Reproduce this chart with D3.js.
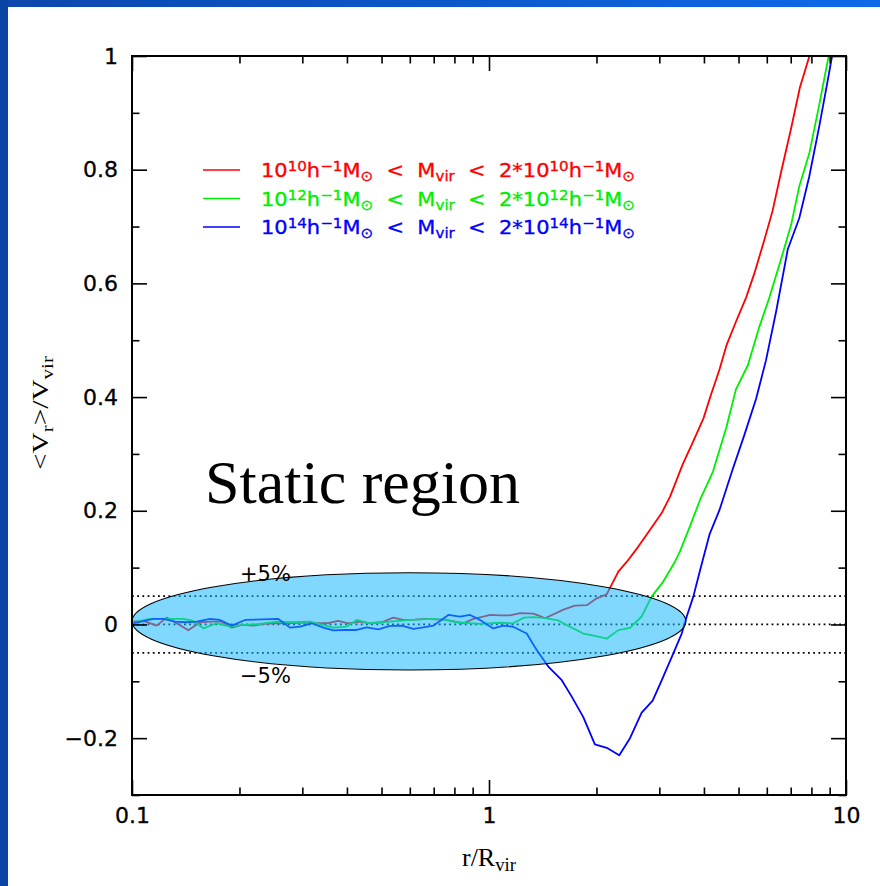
<!DOCTYPE html>
<html>
<head>
<meta charset="utf-8">
<script src="https://cdn.jsdelivr.net/npm/d3@7"></script>
<style>
  body { margin: 0; background: #fff; }
  svg { display: block; }
</style>
</head>
<body>
<div id="chart"></div>
<script>
const width = 880;
const height = 886;
const margin = { top: 56, right: 34, bottom: 91, left: 132 };

// r/Rvir and <Vr>/Vvir
const rRed = [0.1009, 0.1076, 0.1172, 0.1251, 0.1334, 0.1438, 0.155, 0.1654, 0.1783, 0.1903, 0.2029, 0.2188, 0.2334, 0.2516, 0.2713, 0.2893, 0.3085, 0.3291, 0.351, 0.3784, 0.4036, 0.4352, 0.4642, 0.5005, 0.5395, 0.5754, 0.6204, 0.6617, 0.7058, 0.7529, 0.8031, 0.8477, 0.9041, 0.9641, 1.007, 1.073, 1.145, 1.222, 1.332, 1.435, 1.616, 1.741, 1.879, 2.004, 2.136, 2.303, 2.43, 2.62, 2.823, 3.046, 3.215, 3.49, 3.72, 3.99, 4.19, 4.42, 4.62, 4.92, 5.25, 5.54, 5.91, 6.23, 6.58, 7.02, 7.43, 7.9, 8.1];
const vRed = [0.005, 0.0062, -0.0021, 0.012, 0.0021, -0.0103, 0.0039, 0.005, 0.005, -0.0056, -0.0009, -0.0021, 0.0009, 0.0021, 0.0021, 0.0027, 0.0039, 0.0021, 0.0021, 0.0062, 0.0021, 0.005, 0.0021, 0.0039, 0.012, 0.0079, 0.0085, 0.0097, 0.0091, 0.0085, 0.005, 0.0021, 0.0097, 0.0138, 0.017, 0.016, 0.016, 0.02, 0.019, 0.011, 0.026, 0.033, 0.034, 0.046, 0.053, 0.093, 0.11, 0.137, 0.166, 0.196, 0.225, 0.282, 0.32, 0.363, 0.405, 0.448, 0.49, 0.533, 0.575, 0.618, 0.677, 0.728, 0.796, 0.873, 0.945, 1.0, 1.03];

const rGreen = [0.1031, 0.1123, 0.1224, 0.1393, 0.1485, 0.1585, 0.1726, 0.1882, 0.2051, 0.2235, 0.2542, 0.2772, 0.3152, 0.3664, 0.3993, 0.4259, 0.4642, 0.5281, 0.6008, 0.6982, 0.7529, 0.8121, 0.944, 1.073, 1.169, 1.253, 1.332, 1.435, 1.563, 1.685, 1.837, 1.98, 2.136, 2.303, 2.483, 2.677, 2.854, 3.073, 3.315, 3.425, 3.652, 3.9, 4.24, 4.62, 4.92, 5.31, 5.72, 6.1, 6.58, 7.02, 7.4, 7.9, 8.42, 8.94, 9.2];
const vGreen = [0.005, 0.0097, 0.0097, 0.0097, 0.0062, -0.0068, 0.0021, -0.0038, -0.0009, 0.0003, 0.005, 0.0039, 0.005, -0.0056, -0.0038, 0.0079, 0.0021, 0.005, 0.0079, 0.0097, 0.0079, 0.0039, 0.001, 0.003, 0.002, 0.012, 0.013, 0.011, 0.007, -0.004, -0.016, -0.02, -0.025, -0.01, -0.006, 0.014, 0.049, 0.075, 0.11, 0.128, 0.172, 0.219, 0.269, 0.346, 0.414, 0.456, 0.524, 0.575, 0.643, 0.703, 0.771, 0.83, 0.915, 1.0, 1.04];

const rBlue = [0.1009, 0.1147, 0.1224, 0.1319, 0.1423, 0.1518, 0.1654, 0.1764, 0.1903, 0.2073, 0.257, 0.2772, 0.2956, 0.3187, 0.3435, 0.3664, 0.3951, 0.4259, 0.4543, 0.4898, 0.5281, 0.5694, 0.6138, 0.6546, 0.6982, 0.7692, 0.8295, 0.8848, 0.944, 1.028, 1.097, 1.169, 1.275, 1.36, 1.466, 1.599, 1.705, 1.837, 1.98, 2.137, 2.317, 2.483, 2.677, 2.874, 3.048, 3.283, 3.466, 3.58, 3.735, 3.9, 4.15, 4.42, 4.82, 5.19, 5.6, 5.97, 6.37, 6.87, 7.4, 7.89, 8.42, 8.89, 9.14, 9.4];
const vBlue = [0.0021, 0.0097, 0.0097, 0.005, 0.0039, 0.005, 0.0097, 0.0079, -0.0021, 0.0079, 0.0097, -0.0056, -0.0038, 0.0021, -0.0056, -0.0103, -0.0097, -0.0097, -0.005, -0.0085, -0.0026, -0.0021, -0.0079, -0.005, -0.0021, 0.0167, 0.0138, 0.0167, 0.008, -0.007, -0.002, -0.004, -0.016, -0.045, -0.074, -0.098, -0.127, -0.163, -0.211, -0.217, -0.23, -0.2, -0.155, -0.134, -0.098, -0.051, -0.016, 0.014, 0.049, 0.095, 0.159, 0.201, 0.274, 0.333, 0.397, 0.465, 0.55, 0.66, 0.715, 0.788, 0.877, 0.957, 1.0, 1.05];

const seriesNames = ["10", "12", "14"];
const seriesColors = ["#ff0000", "#00ee00", "#0000ff"];

const yMajor = [-0.2, 0, 0.2, 0.4, 0.6, 0.8, 1];
const yMinor = [-0.3, -0.1, 0.1, 0.3, 0.5, 0.7, 0.9];
const xMajor = [0.1, 1, 10];
const xMinor = [0.2, 0.3, 0.4, 0.5, 0.6, 0.7, 0.8, 0.9, 2, 3, 4, 5, 6, 7, 8, 9];
const bands = [0.05, 0, -0.05];

// the highlighted ellipse, in data units
const ellipseR = [0.1, 3.56];
const ellipseV = [-0.08, 0.091];

const svg = d3
  .select("#chart")
  .append("svg")
  .attr("width", width)
  .attr("height", height);

// slide background stripes
const grad = svg.append("defs").append("linearGradient").attr("id", "topgrad");
grad.append("stop").attr("offset", "0%").attr("stop-color", "#0b47ac");
grad.append("stop").attr("offset", "100%").attr("stop-color", "#0e69e8");
svg.append("rect").attr("x", 0).attr("y", 0).attr("width", width).attr("height", 7).attr("fill", "url(#topgrad)");
svg.append("rect").attr("x", 0).attr("y", 0).attr("width", 8).attr("height", height).attr("fill", "#0a45a6");

svg.select("defs")
  .append("clipPath")
  .attr("id", "plot-clip")
  .append("rect")
  .attr("x", margin.left)
  .attr("y", margin.top)
  .attr("width", width - margin.left - margin.right)
  .attr("height", height - margin.top - margin.bottom);

const x = d3
  .scaleLog()
  .domain([0.1, 10])
  .range([margin.left, width - margin.right]);

const y = d3
  .scaleLinear()
  .domain([-0.3, 1])
  .range([height - margin.bottom, margin.top]);

// dotted reference lines
svg
  .selectAll("line.band")
  .data(bands)
  .enter()
  .append("line")
  .attr("class", "band")
  .attr("x1", x(0.1))
  .attr("x2", x(10))
  .attr("y1", (d) => y(d))
  .attr("y2", (d) => y(d))
  .attr("stroke", "#000")
  .attr("stroke-width", 1.8)
  .attr("stroke-dasharray", "1.8,3.4");

// curves
const line = d3
  .line()
  .x((d) => x(d[0]))
  .y((d) => y(d[1]));

const series = [
  { r: rRed, v: vRed },
  { r: rGreen, v: vGreen },
  { r: rBlue, v: vBlue },
];

svg
  .append("g")
  .attr("clip-path", "url(#plot-clip)")
  .selectAll("path")
  .data(series)
  .enter()
  .append("path")
  .attr("d", (s) => line(d3.zip(s.r, s.v)))
  .attr("fill", "none")
  .attr("stroke", (s, i) => seriesColors[i])
  .attr("stroke-width", 1.8)
  .attr("stroke-linejoin", "round");

// translucent ellipse over the lines
svg
  .append("ellipse")
  .attr("cx", (x(ellipseR[0]) + x(ellipseR[1])) / 2)
  .attr("cy", (y(ellipseV[0]) + y(ellipseV[1])) / 2)
  .attr("rx", (x(ellipseR[1]) - x(ellipseR[0])) / 2)
  .attr("ry", (y(ellipseV[0]) - y(ellipseV[1])) / 2)
  .attr("fill", "rgb(22,183,255)")
  .attr("fill-opacity", 0.545)
  .attr("stroke", "#000")
  .attr("stroke-width", 1.1);

svg
  .append("text")
  .attr("x", 240)
  .attr("y", y(0.05) - 15)
  .style("font-family", "DejaVu Sans")
  .style("font-size", "21px")
  .text("+5%");

svg
  .append("text")
  .attr("x", 240)
  .attr("y", y(-0.05) + 30)
  .style("font-family", "DejaVu Sans")
  .style("font-size", "21px")
  .text("\u22125%");

svg
  .append("text")
  .attr("x", 205)
  .attr("y", 503)
  .style("font-family", "Liberation Serif, Times New Roman, serif")
  .style("font-size", "62px")
  .text("Static region");

// axes: major and minor ticks on all four sides, pointing inward
const plotW = width - margin.left - margin.right;
const plotH = height - margin.top - margin.bottom;

function styleAxis(g) {
  g.select(".domain").remove();
  g.selectAll(".tick line").attr("stroke", "#000").attr("stroke-width", 1.6);
  g.selectAll(".tick text")
    .attr("fill", "#000")
    .attr("stroke", "#000")
    .attr("stroke-width", 0.3)
    .style("font-family", "DejaVu Sans")
    .style("font-size", "22px");
}

svg
  .append("g")
  .attr("transform", `translate(${margin.left},0)`)
  .call(
    d3.axisLeft(y)
      .tickValues(yMajor)
      .tickSizeInner(-15)
      .tickSizeOuter(0)
      .tickPadding(14)
      .tickFormat((d) => (d < 0 ? "\u2212" + Math.abs(d) : String(d)))
  )
  .call(styleAxis);

svg
  .append("g")
  .attr("transform", `translate(${margin.left},0)`)
  .call(d3.axisLeft(y).tickValues(yMinor).tickSizeInner(-7.5).tickSizeOuter(0).tickFormat(""))
  .call(styleAxis);

svg
  .append("g")
  .attr("transform", `translate(${width - margin.right},0)`)
  .call(d3.axisRight(y).tickValues(yMajor).tickSizeInner(-15).tickSizeOuter(0).tickFormat(""))
  .call(styleAxis);

svg
  .append("g")
  .attr("transform", `translate(${width - margin.right},0)`)
  .call(d3.axisRight(y).tickValues(yMinor).tickSizeInner(-7.5).tickSizeOuter(0).tickFormat(""))
  .call(styleAxis);

svg
  .append("g")
  .attr("transform", `translate(0,${height - margin.bottom})`)
  .call(
    d3.axisBottom(x)
      .tickValues(xMajor)
      .tickSizeInner(-15)
      .tickSizeOuter(0)
      .tickPadding(12)
      .tickFormat((d) => String(d))
  )
  .call(styleAxis);

svg
  .append("g")
  .attr("transform", `translate(0,${height - margin.bottom})`)
  .call(d3.axisBottom(x).tickValues(xMinor).tickSizeInner(-7.5).tickSizeOuter(0).tickFormat(""))
  .call(styleAxis);

svg
  .append("g")
  .attr("transform", `translate(0,${margin.top})`)
  .call(d3.axisTop(x).tickValues(xMajor).tickSizeInner(-15).tickSizeOuter(0).tickFormat(""))
  .call(styleAxis);

svg
  .append("g")
  .attr("transform", `translate(0,${margin.top})`)
  .call(d3.axisTop(x).tickValues(xMinor).tickSizeInner(-7.5).tickSizeOuter(0).tickFormat(""))
  .call(styleAxis);

svg
  .append("rect")
  .attr("x", margin.left)
  .attr("y", margin.top)
  .attr("width", plotW)
  .attr("height", plotH)
  .attr("fill", "none")
  .attr("stroke", "#000")
  .attr("stroke-width", 2);

// axis titles
function addParts(text, parts) {
  parts.forEach((p) => {
    const t = text.append("tspan").text(p.t);
    if (p.sup) t.attr("baseline-shift", "40%").style("font-size", "72%");
    if (p.sub) t.attr("baseline-shift", "-28%").style("font-size", "72%");
  });
}

const xTitle = svg
  .append("text")
  .attr("x", x(1))
  .attr("y", 866)
  .attr("text-anchor", "middle")
  .style("font-family", "Liberation Serif, serif")
  .style("font-size", "26px");
addParts(xTitle, [{ t: "r/R" }, { t: "vir", sub: true }]);

const yTitle = svg
  .append("text")
  .attr("transform", "translate(48,413) rotate(-90)")
  .attr("text-anchor", "middle")
  .attr("textLength", 114)
  .attr("lengthAdjust", "spacingAndGlyphs")
  .style("font-family", "Liberation Serif, serif")
  .style("font-size", "24px");
addParts(yTitle, [{ t: "<V" }, { t: "r", sub: true }, { t: ">/V" }, { t: "vir", sub: true }]);

// legend
const legend = svg.append("g");
seriesNames.forEach((n, i) => {
  const ly = 170 + i * 28.5;
  legend
    .append("line")
    .attr("x1", 203)
    .attr("x2", 240)
    .attr("y1", ly)
    .attr("y2", ly)
    .attr("stroke", seriesColors[i])
    .attr("stroke-width", 1.6);
  const t = legend
    .append("text")
    .attr("x", 261)
    .attr("y", ly + 7)
    .attr("fill", seriesColors[i])
    .attr("stroke", seriesColors[i])
    .attr("stroke-width", 0.35)
    .attr("textLength", 374)
    .attr("lengthAdjust", "spacingAndGlyphs")
    .style("font-family", "DejaVu Sans")
    .style("font-size", "20px")
    .attr("xml:space", "preserve");
  addParts(t, [
    { t: "10" }, { t: n, sup: true }, { t: "h" }, { t: "\u22121", sup: true }, { t: "M" }, { t: "\u2299", sub: true },
    { t: "  <  M" }, { t: "vir", sub: true },
    { t: "  <  2*10" }, { t: n, sup: true }, { t: "h" }, { t: "\u22121", sup: true }, { t: "M" }, { t: "\u2299", sub: true },
  ]);
});
</script>
</body>
</html>
